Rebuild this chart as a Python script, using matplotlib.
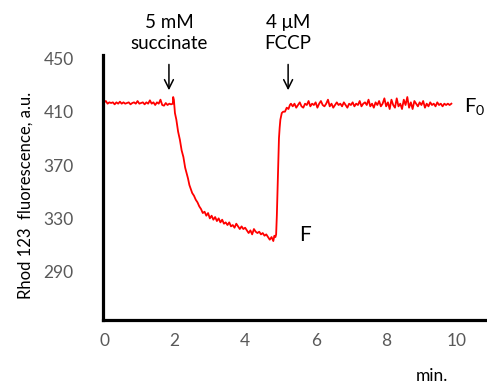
import numpy as np
import matplotlib
matplotlib.use("Agg")
import matplotlib.pyplot as plt

plt.rcParams['font.family'] = ['Lato', 'DejaVu Sans']
plt.rcParams['mathtext.default'] = 'regular'

# ---- data ----
t_base = np.round(np.arange(0.0, 1.951, 0.05), 3)
v_base = [417, 418, 416, 417, 416.5, 417, 415.5, 417, 416, 417.5,
          416, 417, 416, 416.5, 417, 415.5, 416.5, 417, 416, 418,
          416, 416.5, 417, 415.5, 417, 416, 418.5, 416, 417, 415,
          417, 416, 419, 415, 414.5, 416.5, 415, 416, 415.5, 416]

t_mid = [1.96, 1.98, 2.01, 2.05, 2.10, 2.15, 2.20, 2.25, 2.30, 2.34, 2.38, 2.42,
         2.46, 2.50, 2.55, 2.60, 2.65, 2.70, 2.75, 2.80, 2.85, 2.90, 2.95,
         3.00, 3.05, 3.10, 3.15, 3.20, 3.25, 3.30, 3.35, 3.40, 3.45, 3.50,
         3.55, 3.60, 3.65, 3.70, 3.75, 3.80, 3.85, 3.90, 3.95, 4.00, 4.05,
         4.10, 4.15, 4.20, 4.25, 4.30, 4.35, 4.40, 4.45, 4.50, 4.55, 4.60,
         4.65, 4.70, 4.75, 4.80, 4.83, 4.86, 4.88, 4.90, 4.92, 4.94, 4.96,
         4.98, 5.00, 5.04, 5.08, 5.13, 5.18, 5.23, 5.27, 5.30]
v_mid = [421, 419, 409, 404, 395, 389, 381, 376, 368, 364, 360, 355,
         352, 349, 347, 344, 342, 339, 337, 334, 335, 332, 334,
         330, 332, 329, 331, 328, 330, 327, 329, 326, 327, 325,
         327, 324, 325, 323, 326, 324, 322, 324, 322, 323, 321,
         319, 321, 318, 322, 320, 319, 320, 318, 319, 317, 318,
         316, 314, 316, 313, 317, 316, 318, 332, 352, 372, 390,
         398, 404, 409, 410, 410, 413, 412, 415, 416]

t_post = np.round(np.arange(5.35, 9.851, 0.05), 3)
v_post = [414, 416, 413, 415, 417, 414, 413, 416, 415, 418,
          414, 416, 415, 417, 413, 416, 418, 415, 414, 416,
          419, 414, 416, 413, 415, 417, 415, 416, 414, 417,
          415, 413, 416, 415, 417, 414, 416, 415, 418, 414,
          416, 417, 415, 419, 414, 416, 413, 417, 415, 418,
          414, 416, 420, 414, 417, 412, 419, 415, 413, 420,
          414, 416, 412, 419, 415, 421, 413, 417, 412, 418,
          416, 414, 417, 415, 418, 413, 416, 414, 417, 415,
          416, 414, 417, 415, 416, 414, 416, 415, 416, 415, 416]

x_ticks = [0, 2, 4, 6, 8, 10]
y_ticks = [290, 330, 370, 410, 450]

n = min(len(t_post), len(v_post))
t = np.concatenate([t_base, t_mid, t_post[:n]])
v = np.concatenate([v_base, v_mid, v_post[:n]])

# ---- figure ----
W, H = 487, 389
fig = plt.figure(figsize=(W / 100, H / 100), dpi=100)
ax = fig.add_axes([103 / W, 1 - 320 / H, 1 - 103 / W, (320 - 55) / H])

ax.plot(t, v, color='#ff0000', lw=1.3)

ax.set_xlim(-0.03, 10.86)
ax.set_ylim(253.8, 452.5)
ax.set_xticks(x_ticks)
ax.set_yticks(y_ticks)
ax.tick_params(axis='both', length=0, labelsize=12.5, labelcolor='#595959')
ax.tick_params(axis='y', pad=21)
ax.tick_params(axis='x', pad=9)
for s in ['top', 'right']:
    ax.spines[s].set_visible(False)
for s in ['left', 'bottom']:
    ax.spines[s].set_linewidth(2.3)
    ax.spines[s].set_color('black')

ax.set_ylabel('Rhod 123  fluorescence, a.u.', fontsize=12)
ax.yaxis.set_label_coords(-(103 - 34) / (W - 103), 0.47)

fig.text(432 / W, 1 - 376 / H, 'min.', fontsize=12.5, ha='center', va='center')

# annotations
arrow_kw = dict(arrowstyle='->', color='black', lw=1.1, mutation_scale=16)
ax.annotate('', xy=(1.84, 424), xytext=(1.84, 447.5),
            arrowprops=arrow_kw, annotation_clip=False)
ax.annotate('', xy=(5.22, 424), xytext=(5.22, 447.5),
            arrowprops=arrow_kw, annotation_clip=False)
ax.text(1.84, 469.0, '5 mM\nsuccinate', ha='center', va='center',
        fontsize=13.5, linespacing=1.25, clip_on=False)
ax.text(5.22, 469.0, '4 μM\nFCCP', ha='center', va='center',
        fontsize=13.5, linespacing=1.25, clip_on=False)

ax.text(10.2, 414, 'F$_0$', ha='left', va='center', fontsize=14.5, clip_on=False)
ax.text(5.53, 317.5, 'F', ha='left', va='center', fontsize=15, clip_on=False)

fig.savefig('out.png', dpi=100)
